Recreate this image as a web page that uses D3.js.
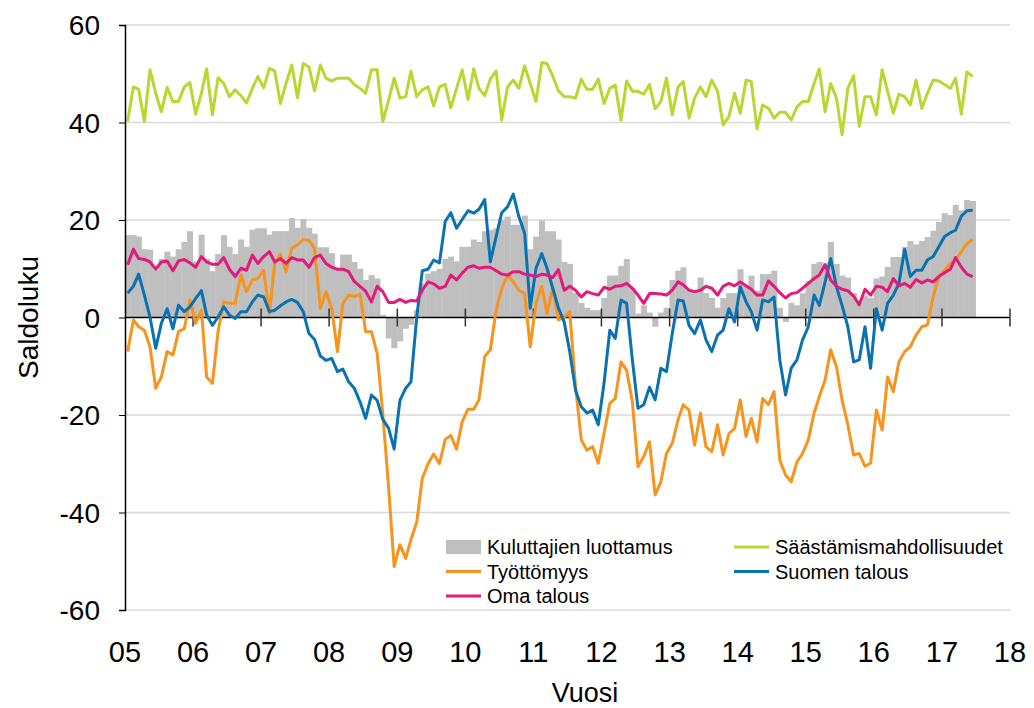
<!DOCTYPE html>
<html>
<head>
<meta charset="utf-8">
<script src="https://cdn.jsdelivr.net/npm/d3@7"></script>
<style>
body { margin: 0; background: #fff; }
svg { display: block; }
text { font-family: "Liberation Sans", Arial, sans-serif; fill: #000; }
</style>
</head>
<body>
<svg id="chart"></svg>
<script>
// monthly series, Jan 2005 -> Jun 2017
const startYear = 2005;
const luottamus = [16.9,16.9,16.6,14,13.9,9.7,12,13.5,12.5,14,15.5,17.7,11.5,17,12,9.5,13,16.9,14.5,13,16,14.5,18,18.3,
  18.3,17,17.7,17.7,17.7,20.4,18.4,20.2,18.4,17.2,14.4,14.4,13.2,10,12.9,12.9,11.4,10,7.7,8.7,8,0.5,-4.3,-6.3,-4.9,-2.3,
  -1.5,1.5,7,9,9.5,10,12,12.5,11.5,14.5,14.5,16,15.5,17.7,18,18.3,20,20.7,19,19,20.9,14,16.6,19.9,17.7,17.7,
  16,11.4,11,5,3,2,1.5,1.5,4,8.6,8.6,10.6,12,6,0.8,2.5,1,-1.9,1,2,7.7,9.6,10.3,5.6,5.6,8.2,
  5,4,2,4,5,5,9.9,6.5,8.6,5.5,8.9,8.9,9.6,2,-0.9,3,2.5,5,7.5,11,11.4,11.2,15.5,11,8.6,8.2,
  5,3,4.5,4,8,8.4,10.4,12.4,12.4,14.5,15.7,15,15.7,16.5,17.8,19.6,21.4,21,23.1,22,24.1,23.9];
const saastaminen = [40.2,47.3,46.8,40.2,50.8,46,42.2,47.2,44.3,44.3,47.3,48.2,41.7,46,51,41.6,49.2,48,45.3,46.7,45.5,44,47,49.4,
  47.1,51.1,50.6,43.9,48,51.8,45.1,52.1,51.4,46.5,51.8,49.1,48.5,49.1,49.1,49.1,47.8,47,46,50.8,50.8,40.2,44.5,49.1,45,45.3,
  50.5,45.3,46.7,47.3,43.4,47.3,47.8,43,47,50.8,44.7,51,47,45.5,48.9,50.6,40.5,47.3,48.7,47,51.6,48,44.3,52.3,52.1,49.5,
  46.5,45.3,45.3,45,48.9,46.8,46.8,48.9,43.9,47,47.7,40.5,48.5,46.4,46.4,45.8,47.8,42.8,44.3,49.1,41.6,47.3,48.4,40.9,45,47.3,
  45.3,48.7,46.4,39.5,41.2,46,41.9,48.7,48.4,38.7,43.6,42.9,40.9,42.1,42.1,40.5,43.2,44.3,44.3,48,51,42.2,48,45,37.5,47,
  49.6,39.2,45.3,45.3,41.6,50.8,46.5,41.9,45.8,45.3,43.6,48.7,42.9,46,48.7,48.5,47.8,47,49.1,41.7,50.4,49.4];
const tyottomyys = [-7,-0.5,-1.9,-2.6,-6,-14.5,-12.2,-7,-7.7,-2.9,-2.3,3.6,-1.2,1.5,-12.2,-13.5,-2.9,3.2,2.9,2.9,8.7,5.3,7.7,8,
  9.7,0.8,11.1,13,9.4,14.2,14.9,16,15.8,14.2,1.9,5.3,1.9,-7,2.9,4.6,4.3,4.8,-2.9,-2.9,-7.4,-19.7,-34.7,-51.1,-46.6,-49.4,
  -45.6,-42,-33,-30,-28,-30,-25,-24.2,-27,-21.4,-18.8,-18.8,-16.9,-8,-6.6,1.5,5.9,8.7,7.3,5.6,4.9,-6,2.9,6.4,0.8,6,
  -0.5,0,1.2,-14,-25.1,-27.2,-26.5,-29.9,-23.8,-17.6,-16.6,-9.1,-10.8,-17.3,-30.6,-28.5,-25.5,-36.4,-33.7,-27.9,-25.8,-21,-17.9,-19,-26.2,-19.6,
  -26.5,-27.5,-22,-28.2,-23.8,-22.8,-16.9,-24.4,-20.7,-25.5,-16.6,-17.9,-15.2,-29.2,-32.3,-33.7,-29.6,-27.9,-25.1,-19.6,-16.2,-12.8,-6.6,-10.1,-16.9,-22,
  -28.2,-27.9,-30.5,-29.9,-19,-23.1,-12.2,-15.2,-9.1,-7,-6,-3.6,-1.9,-1.5,4.3,8.4,9.7,11.1,11.8,13.5,15.2,16];
const suomenTalous = [5,6.4,8.9,4.6,0.1,-6.3,-1.2,1.8,-2.3,2.5,1.2,2.2,3.9,5.5,0.5,-1.6,0.1,2.2,0.5,-0.2,1.2,1.2,3.2,4.6,
  4.2,1.2,1.5,2.4,3.2,3.7,3.1,1.2,-3.3,-4.5,-7.9,-8.8,-8.4,-11.1,-10.6,-13.2,-14.5,-17.3,-20.7,-15.9,-17,-20.9,-22.7,-27,-17,-14.5,
  -13.2,0,9.6,9.9,11.8,11.2,19.7,21.5,18.3,20.1,21.9,21.4,22.2,24.2,11.4,16.6,21.5,22.7,25.3,20.7,17.3,1.9,10.1,13.1,10.1,6,
  2,-0.9,-7,-14.9,-18.3,-19.6,-19,-22,-13.5,-2.6,-4.3,3.6,2.9,-8.7,-18.6,-17.9,-14.3,-16.9,-10.4,-11.1,-3.3,3.6,3.4,-1.6,-3.3,-0.5,
  -4.6,-7,-3.6,-2.6,1.8,-0.9,6.3,3.2,1.2,-2.6,3.6,3.2,4.2,-8.7,-15.9,-10.4,-8.7,-4.6,-1.9,4.6,2.5,7.3,12.1,6.3,2.5,-1.9,
  -9.1,-8.7,-1.9,-10.4,1.8,-2.6,2.9,4.6,7,14,8.4,9.7,9.7,11.8,12.5,14.5,16.6,17.4,17.9,20.8,21.9,22];
const omaTalous = [10.8,14,12.1,11.9,11.4,9.9,11.4,11.6,9.6,11.6,11.9,11.2,10.3,12.5,11.4,10.9,10.9,12.3,9.9,8.4,10.1,9.7,12.8,11.1,
  12.5,13.5,11.4,12.1,11.1,12.3,11.8,11.8,10.3,12.3,12.8,11.1,10.3,9.9,9.9,9.4,7.4,6.4,5.4,3.2,6.4,5.3,3.1,3.1,3.7,3.1,
  3.5,3.4,5.6,7.3,6.9,6,6.4,8.7,7.7,9.1,10.3,10.6,10.1,10.3,10.3,9.6,8.9,8.7,9.4,9.4,8.9,8.7,8.4,8.9,8.7,8.2,
  9.8,5.6,6.4,5.6,4.2,5.3,4.9,4.6,6.2,5.8,6.4,6.5,7,6,4.6,2.9,4.9,4.9,4.8,4.6,5.6,7.3,6.7,5.6,5.3,5.6,
  6.4,6,4.6,6.4,7,6.5,7.3,6.5,5.8,4.6,4.6,7.5,6.4,5.1,4,4.9,5.1,6,7,8,8.7,10.8,7.7,6.4,5.8,5.5,
  4.4,2.6,5.8,4.6,6.4,6.2,5.3,8,6.5,7,6.2,7.8,7.1,7.7,7.3,8.4,9.2,9.9,12.3,10.3,8.9,8.4];

const yTicks = [-60, -40, -20, 0, 20, 40, 60];
const xTickLabels = ["05","06","07","08","09","10","11","12","13","14","15","16","17","18"];

const lineSeries = [
  {name: "Säästämismahdollisuudet", values: saastaminen, color: "#bcd631"},
  {name: "Työttömyys", values: tyottomyys, color: "#f7941d"},
  {name: "Suomen talous", values: suomenTalous, color: "#0a72b0"},
  {name: "Oma talous", values: omaTalous, color: "#e3197b"}
];

var width = 1034;
var height = 708;
var margin = {top: 25, right: 24, bottom: 98, left: 125};

var svg = d3.select('#chart')
    .attr('width', width)
    .attr('height', height);

var x = d3.scaleTime()
    .domain([new Date(startYear, 0, 1), new Date(startYear + 13, 0, 1)])
    .range([margin.left, width - margin.right]);
var y = d3.scaleLinear()
    .domain([-60, 60])
    .range([height - margin.bottom, margin.top]);

function monthDate(i) {
    return new Date(startYear, i, 15);
}
var barW = (x(new Date(2006, 0, 1)) - x(new Date(2005, 0, 1))) / 12;

// gridlines
svg.append('g')
    .selectAll('line')
    .data(yTicks.filter(d => d != 0))
    .enter().append('line')
    .attr('x1', margin.left)
    .attr('x2', width - margin.right)
    .attr('y1', d => y(d))
    .attr('y2', d => y(d))
    .attr('stroke', '#d9d9d9')
    .attr('stroke-width', 1.5);

// bars
svg.append('g')
    .selectAll('rect')
    .data(luottamus)
    .enter().append('rect')
    .attr('x', (d, i) => x(monthDate(i)) - barW / 2)
    .attr('width', barW + 0.4)
    .attr('y', d => Math.min(y(d), y(0)))
    .attr('height', d => Math.abs(y(d) - y(0)))
    .attr('fill', '#bfbfbf');

// zero line with year ticks
svg.append('line')
    .attr('x1', margin.left).attr('x2', width - margin.right)
    .attr('y1', y(0)).attr('y2', y(0))
    .attr('stroke', '#000').attr('stroke-width', 1.5);
svg.append('g')
    .selectAll('line')
    .data(x.ticks(d3.timeYear.every(1)).slice(1))
    .enter().append('line')
    .attr('x1', d => x(d)).attr('x2', d => x(d))
    .attr('y1', y(0) - 9).attr('y2', y(0) + 9)
    .attr('stroke', '#333').attr('stroke-width', 1.5);

// lines
var lineGen = d3.line()
    .x((d, i) => x(monthDate(i)))
    .y(d => y(d));
svg.append('g')
    .selectAll('path')
    .data(lineSeries)
    .enter().append('path')
    .attr('d', d => lineGen(d.values))
    .attr('fill', 'none')
    .attr('stroke', d => d.color)
    .attr('stroke-width', 3)
    .attr('stroke-linejoin', 'round');

// y axis
var yAxis = d3.axisLeft(y)
    .tickValues(yTicks)
    .tickFormat(d => String(d))
    .tickSize(6)
    .tickPadding(19);
var gy = svg.append('g')
    .attr('transform', `translate(${margin.left},0)`)
    .call(yAxis);
gy.select('.domain').attr('stroke', '#000').attr('stroke-width', 1.5);
gy.selectAll('.tick line').attr('stroke', '#000');
gy.selectAll('.tick text')
    .attr('font-size', 28)
    .attr('dy', '0.35em')
    .style('font-family', '"Liberation Sans", Arial, sans-serif');

// x labels at the bottom
svg.append('g')
    .selectAll('text')
    .data(x.ticks(d3.timeYear.every(1)))
    .enter().append('text')
    .attr('x', d => x(d))
    .attr('y', 662)
    .attr('text-anchor', 'middle')
    .attr('font-size', 29)
    .text((d, i) => xTickLabels[i]);

// axis titles
svg.append('text')
    .attr('transform', `translate(38,${y(0)}) rotate(-90)`)
    .attr('text-anchor', 'middle')
    .attr('font-size', 28)
    .text('Saldoluku');
svg.append('text')
    .attr('x', 585)
    .attr('y', 702)
    .attr('text-anchor', 'middle')
    .attr('font-size', 27)
    .text('Vuosi');

// legend
var legendItems = [
  {name: "Kuluttajien luottamus", color: "#bfbfbf", bar: true, col: 0, row: 0},
  {name: lineSeries[0].name, color: lineSeries[0].color, col: 1, row: 0},
  {name: lineSeries[1].name, color: lineSeries[1].color, col: 0, row: 1},
  {name: lineSeries[2].name, color: lineSeries[2].color, col: 1, row: 1},
  {name: lineSeries[3].name, color: lineSeries[3].color, col: 0, row: 2}
];
var legend = svg.append('g');
var items = legend.selectAll('g')
    .data(legendItems)
    .enter().append('g')
    .attr('transform', d => `translate(${d.col ? 734 : 446},${547 + d.row * 24.5})`);
items.filter(d => d.bar).append('rect')
    .attr('x', 0).attr('y', -7).attr('width', 35).attr('height', 14)
    .attr('fill', d => d.color);
items.filter(d => !d.bar).append('line')
    .attr('x1', 0).attr('x2', 35).attr('y1', 0).attr('y2', 0)
    .attr('stroke', d => d.color).attr('stroke-width', 3);
items.append('text')
    .attr('x', 41)
    .attr('y', 7)
    .attr('font-size', 20)
    .text(d => d.name);
</script>
</body>
</html>
